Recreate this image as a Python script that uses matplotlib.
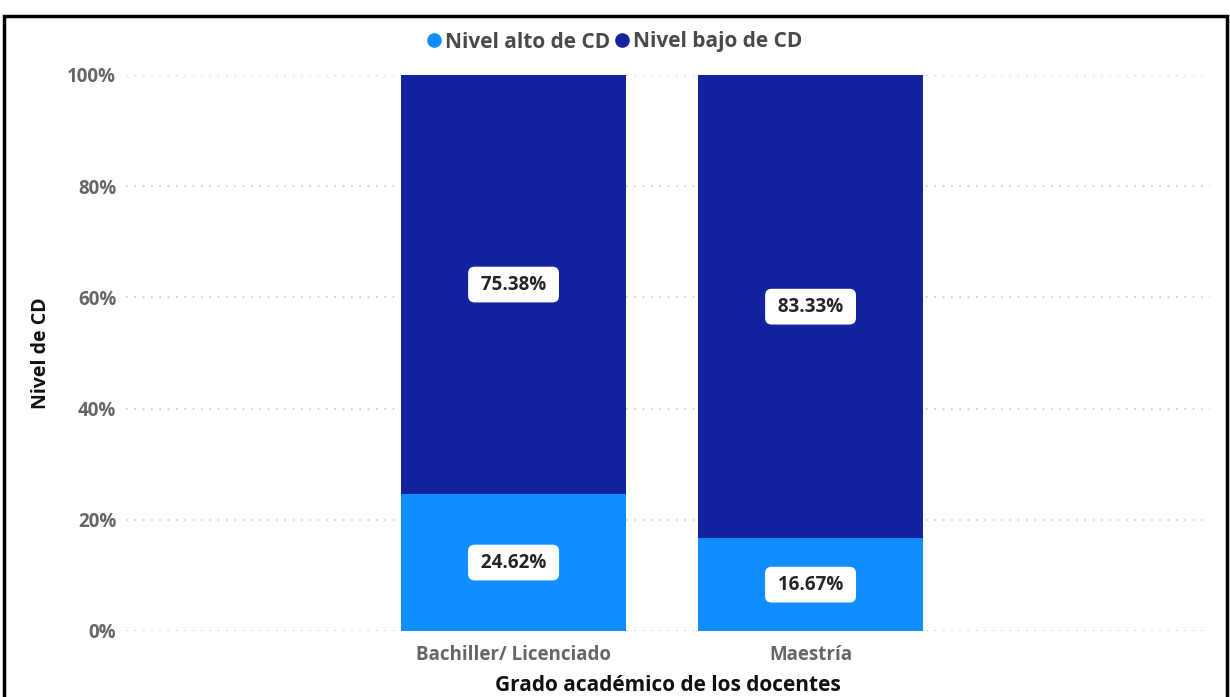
import matplotlib.pyplot as plt
from matplotlib.patches import Rectangle
from matplotlib.lines import Line2D
import numpy as np

# datos
grados = ['Bachiller/ Licenciado', 'Maestría']
nivel_alto = [24.62, 16.67]
nivel_bajo = [75.38, 83.33]
yticks = [0, 20, 40, 60, 80, 100]

c_alto = '#118DFF'
c_bajo = '#12239E'
gris = '#666666'

plt.rcParams['font.family'] = ['Open Sans', 'DejaVu Sans']

fig = plt.figure(figsize=(12.3, 6.97), dpi=100)
ax = fig.add_axes([126 / 1230, 1 - 631 / 697, 1084 / 1230, 556 / 697])

x = np.arange(len(grados))
w = 0.76
ax.bar(x, nivel_alto, w, color=c_alto, zorder=2)
ax.bar(x, nivel_bajo, w, bottom=nivel_alto, color=c_bajo, zorder=2)

# etiquetas de valor
box = dict(boxstyle='round,pad=0.42,rounding_size=0.35', fc='white', ec='none')
for i in range(len(grados)):
    ax.text(x[i], nivel_alto[i] / 2, ' %.2f%% ' % nivel_alto[i], ha='center', va='center',
            fontsize=13.5, fontweight='bold', color='#252423', bbox=box, zorder=3)
    ax.text(x[i], nivel_alto[i] + nivel_bajo[i] / 2, ' %.2f%% ' % nivel_bajo[i], ha='center',
            va='center', fontsize=13.5, fontweight='bold', color='#252423', bbox=box, zorder=3)

ax.set_xlim(-1.305, 2.345)
ax.set_ylim(0, 100)
ax.set_yticks(yticks)
ax.set_yticklabels(['%d%%' % v for v in yticks], fontsize=13.5, fontweight='bold', color=gris)
ax.set_xticks(x)
ax.set_xticklabels(grados, fontsize=13.5, fontweight='bold', color=gris)
ax.tick_params(length=0, pad=7)
ax.tick_params(axis='x', pad=10)
ax.grid(axis='y', color='#cccccc', linestyle=(0, (1, 4)), linewidth=1.2, zorder=0)
for s in ax.spines.values():
    s.set_visible(False)

ax.set_xlabel('Grado académico de los docentes', fontsize=15, fontweight='bold',
              color='#111111', labelpad=7)
ax.set_ylabel('Nivel de CD', fontsize=14, fontweight='bold', color='#111111', labelpad=12)

# leyenda
handles = [Line2D([], [], marker='o', ls='none', color=c_alto, markersize=9.5),
           Line2D([], [], marker='o', ls='none', color=c_bajo, markersize=9.5)]
fig.legend(handles, ['Nivel alto de CD', 'Nivel bajo de CD'], loc='center',
           bbox_to_anchor=(614 / 1230, 1 - 42 / 697), ncol=2, frameon=False,
           handlelength=0.8, handletextpad=0.1, columnspacing=0.2,
           prop=dict(size=15, weight='bold'), labelcolor='#4a4a4a')

# marco
fig.patches.append(Rectangle((4 / 1230, -0.01), 1223 / 1230, 1 - 16 / 697 + 0.01,
                             transform=fig.transFigure, fill=False, ec='black', lw=2.5))

fig.savefig('out.png', dpi=100)
